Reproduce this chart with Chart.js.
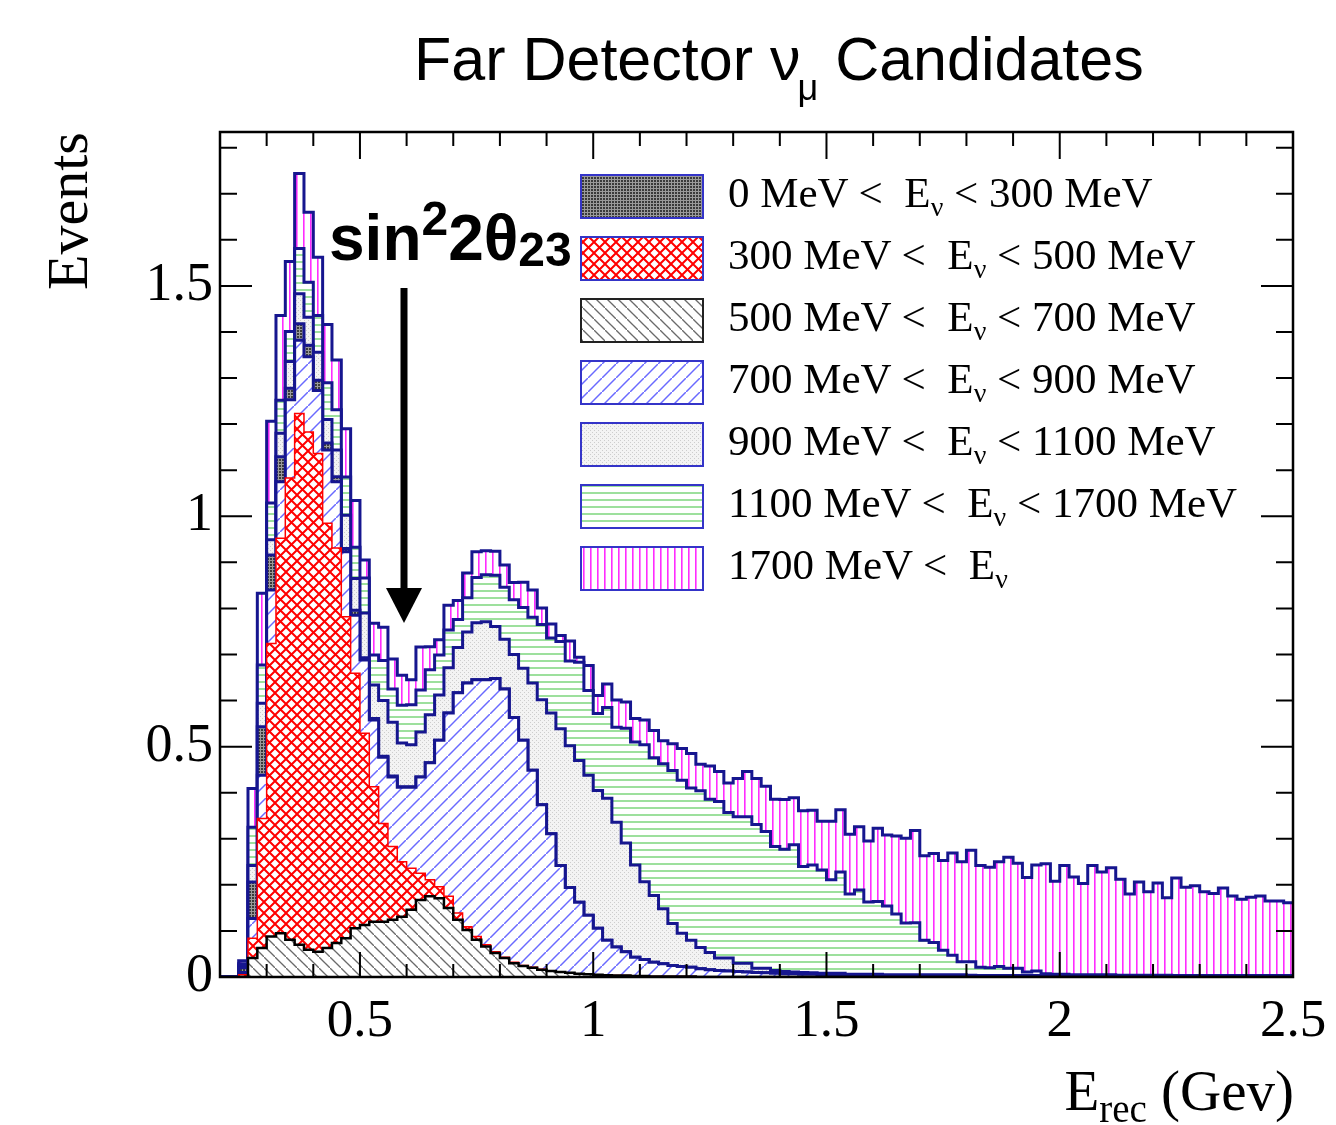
<!DOCTYPE html>
<html>
<head>
<meta charset="utf-8">
<script src="https://cdn.jsdelivr.net/npm/chart.js@4.4.1/dist/chart.umd.min.js"></script>
<style>
  body { margin: 0; background: #fff; }
  #wrap { position: relative; width: 1336px; height: 1125px; background: #fff; overflow: hidden; }
  #c { position: absolute; left: 0; top: 0; }
  .txt { position: absolute; white-space: nowrap; line-height: 1; color: #000; }
  .serif { font-family: 'Liberation Serif', 'DejaVu Serif', serif; }
  .sans { font-family: 'Liberation Sans', Arial, sans-serif; }
  .leg { left: 728px; font-size: 43px; }
  .leg .s { font-size: 28px; position: relative; top: 9px; }
</style>
</head>
<body>
<div id="wrap">
  <canvas id="c" width="1336" height="1125"></canvas>

  <div class="txt sans" style="left:414px; top:29px; font-size:61px;">Far Detector ν<span style="font-size:36px; position:relative; top:20px; margin-left:-3px;">μ</span> Candidates</div>

  <div class="txt serif" style="left:39px; top:290px; font-size:58px; transform:rotate(-90deg); transform-origin:0 0;">Events</div>

  <div class="txt serif" style="right:42px; top:1062px; font-size:57px;">E<span style="font-size:39px; position:relative; top:12px;">rec</span> (Gev)</div>

  <div class="txt sans" style="left:329px; top:206px; font-size:64px; font-weight:bold;">sin<span style="font-size:48px; position:relative; top:-25px;">2</span>2θ<span style="font-size:48px; position:relative; top:6px;">23</span></div>

  <div class="txt serif leg" style="top:171px;">0 MeV &lt;&nbsp; E<span class="s">ν</span> &lt; 300 MeV</div>
  <div class="txt serif leg" style="top:233px;">300 MeV &lt;&nbsp; E<span class="s">ν</span> &lt; 500 MeV</div>
  <div class="txt serif leg" style="top:295px;">500 MeV &lt;&nbsp; E<span class="s">ν</span> &lt; 700 MeV</div>
  <div class="txt serif leg" style="top:357px;">700 MeV &lt;&nbsp; E<span class="s">ν</span> &lt; 900 MeV</div>
  <div class="txt serif leg" style="top:419px;">900 MeV &lt;&nbsp; E<span class="s">ν</span> &lt; 1100 MeV</div>
  <div class="txt serif leg" style="top:481px;">1100 MeV &lt;&nbsp; E<span class="s">ν</span> &lt; 1700 MeV</div>
  <div class="txt serif leg" style="top:543px;">1700 MeV &lt;&nbsp; E<span class="s">ν</span></div>
</div>

<script>
// reconstructed energy bins: 0.20 .. 2.50 GeV, 0.02 GeV wide (115 bins)
const binEdges = Array.from({ length: 116 }, (_, i) => +(0.2 + 0.02 * i).toFixed(2));

// events per bin for each true-energy slice
const ev0to300 = [
  0, 0, 0.010, 0.079, 0.105, 0.076, 0.054, 0.025, 0.036, 0.025,
  0.022, 0.015, 0.011, 0.007, 0.011, 0.005, 0.003, 0.002, 0.002, 0.001,
  0.001, 0, 0, 0, 0, 0, 0, 0, 0, 0,
  0, 0, 0, 0, 0, 0, 0, 0, 0, 0,
  0, 0, 0, 0, 0, 0, 0, 0, 0, 0,
  0, 0, 0, 0, 0, 0, 0, 0, 0, 0,
  0, 0, 0, 0, 0, 0, 0, 0, 0, 0,
  0, 0, 0, 0, 0, 0, 0, 0, 0, 0,
  0, 0, 0, 0, 0, 0, 0, 0, 0, 0,
  0, 0, 0, 0, 0, 0, 0, 0, 0, 0,
  0, 0, 0, 0, 0, 0, 0, 0, 0, 0,
  0, 0, 0, 0, 0
];
const ev300to500 = [
  0, 0, 0.005, 0.043, 0.281, 0.636, 0.857, 1.002, 1.153, 1.124,
  1.081, 0.922, 0.857, 0.698, 0.553, 0.416, 0.293, 0.213, 0.159, 0.119,
  0.090, 0.058, 0.036, 0.025, 0.025, 0.015, 0.007, 0.007, 0.004, 0.003,
  0.002, 0.002, 0.001, 0.001, 0.001, 0, 0, 0, 0, 0,
  0, 0, 0, 0, 0, 0, 0, 0, 0, 0,
  0, 0, 0, 0, 0, 0, 0, 0, 0, 0,
  0, 0, 0, 0, 0, 0, 0, 0, 0, 0,
  0, 0, 0, 0, 0, 0, 0, 0, 0, 0,
  0, 0, 0, 0, 0, 0, 0, 0, 0, 0,
  0, 0, 0, 0, 0, 0, 0, 0, 0, 0,
  0, 0, 0, 0, 0, 0, 0, 0, 0, 0,
  0, 0, 0, 0, 0
];
const ev500to700 = [
  0, 0, 0, 0.041, 0.063, 0.088, 0.095, 0.081, 0.070, 0.059,
  0.055, 0.063, 0.074, 0.084, 0.106, 0.113, 0.120, 0.120, 0.124, 0.131,
  0.146, 0.167, 0.175, 0.171, 0.150, 0.124, 0.102, 0.081, 0.066, 0.052,
  0.041, 0.030, 0.024, 0.020, 0.016, 0.013, 0.011, 0.009, 0.007, 0.006,
  0.005, 0.004, 0.003, 0.003, 0.002, 0.002, 0.001, 0.001, 0.001, 0.001,
  0.001, 0, 0, 0, 0, 0, 0, 0, 0, 0,
  0, 0, 0, 0, 0, 0, 0, 0, 0, 0,
  0, 0, 0, 0, 0, 0, 0, 0, 0, 0,
  0, 0, 0, 0, 0, 0, 0, 0, 0, 0,
  0, 0, 0, 0, 0, 0, 0, 0, 0, 0,
  0, 0, 0, 0, 0, 0, 0, 0, 0, 0,
  0, 0, 0, 0, 0
];
const ev700to900 = [
  0, 0, 0.005, 0.043, 0.094, 0.116, 0.123, 0.170, 0.159, 0.163,
  0.137, 0.159, 0.144, 0.141, 0.126, 0.159, 0.145, 0.144, 0.151, 0.162,
  0.176, 0.209, 0.254, 0.318, 0.398, 0.478, 0.529, 0.557, 0.575, 0.593,
  0.582, 0.531, 0.489, 0.428, 0.357, 0.298, 0.231, 0.185, 0.155, 0.128,
  0.101, 0.076, 0.062, 0.052, 0.041, 0.036, 0.031, 0.028, 0.024, 0.022,
  0.020, 0.018, 0.016, 0.014, 0.013, 0.012, 0.011, 0.010, 0.009, 0.008,
  0.007, 0.007, 0.006, 0.006, 0.005, 0.005, 0.005, 0.004, 0.004, 0.004,
  0.004, 0.003, 0.003, 0.003, 0.003, 0.003, 0.003, 0.003, 0.003, 0.003,
  0.003, 0.002, 0.002, 0.002, 0.002, 0.002, 0.002, 0.002, 0.002, 0.002,
  0.002, 0.002, 0.002, 0.002, 0.002, 0.002, 0.002, 0.002, 0.002, 0.002,
  0.002, 0.002, 0.001, 0.001, 0.001, 0.001, 0.001, 0.001, 0.001, 0.001,
  0.001, 0.001, 0.001, 0.001, 0.001
];
const ev900to1100 = [
  0, 0, 0.005, 0.036, 0.051, 0.033, 0.051, 0.058, 0.065, 0.061,
  0.061, 0.051, 0.058, 0.072, 0.069, 0.097, 0.073, 0.121, 0.117, 0.095,
  0.091, 0.098, 0.104, 0.098, 0.098, 0.098, 0.111, 0.124, 0.126, 0.113,
  0.108, 0.137, 0.156, 0.189, 0.228, 0.262, 0.297, 0.308, 0.308, 0.304,
  0.299, 0.308, 0.271, 0.236, 0.200, 0.169, 0.145, 0.119, 0.091, 0.072,
  0.059, 0.046, 0.037, 0.027, 0.028, 0.018, 0.019, 0.009, 0.010, 0.006,
  0.005, 0.004, 0.004, 0.003, 0.003, 0.003, 0.003, 0.002, 0.002, 0.002,
  0.002, 0.002, 0.002, 0.002, 0.002, 0.002, 0.002, 0.002, 0.002, 0.002,
  0.001, 0.001, 0.001, 0.001, 0.001, 0.001, 0.001, 0.001, 0.001, 0.001,
  0.001, 0.001, 0.001, 0.001, 0.001, 0.001, 0.001, 0.001, 0.001, 0.001,
  0.001, 0.001, 0.001, 0.001, 0.001, 0.001, 0.001, 0.001, 0.001, 0.001,
  0.001, 0.001, 0.001, 0.001, 0.001
];
const ev1100to1700 = [
  0, 0, 0.004, 0.083, 0.083, 0.080, 0.072, 0.065, 0.098, 0.076,
  0.080, 0.080, 0.087, 0.083, 0.068, 0.076, 0.065, 0.087, 0.072, 0.082,
  0.087, 0.091, 0.098, 0.087, 0.082, 0.061, 0.074, 0.098, 0.102, 0.111,
  0.113, 0.119, 0.132, 0.143, 0.163, 0.163, 0.189, 0.184, 0.213, 0.184,
  0.167, 0.197, 0.206, 0.249, 0.267, 0.297, 0.299, 0.315, 0.332, 0.332,
  0.330, 0.340, 0.333, 0.340, 0.316, 0.318, 0.318, 0.312, 0.297, 0.269,
  0.265, 0.276, 0.230, 0.234, 0.224, 0.203, 0.220, 0.174, 0.183, 0.157,
  0.158, 0.149, 0.132, 0.112, 0.113, 0.075, 0.070, 0.053, 0.042, 0.028,
  0.029, 0.018, 0.017, 0.020, 0.016, 0.016, 0.008, 0.010, 0.004, 0.003,
  0.003, 0.002, 0.002, 0.002, 0.002, 0.002, 0.001, 0.001, 0.001, 0.001,
  0.001, 0.001, 0.001, 0.001, 0.001, 0.001, 0.001, 0.001, 0.001, 0.001,
  0.001, 0.001, 0.001, 0.001, 0.001
];
const ev1700up = [
  0, 0, 0.006, 0.084, 0.156, 0.177, 0.184, 0.152, 0.163, 0.152,
  0.126, 0.126, 0.108, 0.105, 0.101, 0.039, 0.069, 0.072, 0.065, 0.065,
  0.054, 0.093, 0.050, 0.033, 0.054, 0.041, 0.054, 0.056, 0.052, 0.052,
  0.048, 0.037, 0.055, 0.059, 0.036, 0.030, 0.013, 0.043, 0.011, 0.054,
  0.039, 0.051, 0.059, 0.057, 0.051, 0.054, 0.059, 0.050, 0.058, 0.069,
  0.075, 0.058, 0.072, 0.065, 0.064, 0.083, 0.098, 0.100, 0.098, 0.103,
  0.108, 0.102, 0.121, 0.119, 0.106, 0.127, 0.135, 0.130, 0.137, 0.132,
  0.159, 0.154, 0.169, 0.184, 0.200, 0.183, 0.193, 0.195, 0.222, 0.217,
  0.242, 0.221, 0.218, 0.227, 0.241, 0.228, 0.205, 0.230, 0.239, 0.202,
  0.236, 0.212, 0.198, 0.237, 0.223, 0.232, 0.208, 0.176, 0.202, 0.181,
  0.200, 0.168, 0.212, 0.192, 0.195, 0.182, 0.178, 0.190, 0.173, 0.166,
  0.170, 0.173, 0.162, 0.162, 0.158
];

// axis labels
const xMajor = [0.5, 1, 1.5, 2, 2.5];
const xTickLabels = ['0.5', '1', '1.5', '2', '2.5'];
const yMajor = [0, 0.5, 1, 1.5];
const yTickLabels = ['0', '0.5', '1', '1.5'];

// small repeating tiles for the ROOT-like fill styles
function tile(size, bg, paint) {
  const c = document.createElement('canvas');
  c.width = size;
  c.height = size;
  const g = c.getContext('2d');
  if (bg) {
    g.fillStyle = bg;
    g.fillRect(0, 0, size, size);
  }
  paint(g, size);
  return g.createPattern(c, 'repeat');
}

const patDark = tile(6, '#9a9a9a', g => {
  g.fillStyle = '#3a3a3a';
  g.fillRect(0, 0, 2, 2);
  g.fillRect(3, 3, 2, 2);
  g.fillRect(3, 0, 2, 2);
  g.fillRect(0, 3, 2, 2);
});
const patRed = tile(11, '#ffffff', (g, s) => {
  g.strokeStyle = '#ff0000';
  g.lineWidth = 2;
  g.beginPath();
  g.moveTo(0, 0); g.lineTo(s, s);
  g.moveTo(s, 0); g.lineTo(0, s);
  g.stroke();
});
const patGrey = tile(11, '#ffffff', (g, s) => {
  g.strokeStyle = '#6a6a6a';
  g.lineWidth = 1.3;
  g.beginPath();
  g.moveTo(0, 0); g.lineTo(s, s);
  g.stroke();
});
const patBlue = tile(14, '#ffffff', (g, s) => {
  g.strokeStyle = '#6a6aff';
  g.lineWidth = 1.5;
  g.beginPath();
  g.moveTo(0, s); g.lineTo(s, 0);
  g.stroke();
});
const patLight = tile(4, '#f3f3f3', g => {
  g.fillStyle = '#cdcdcd';
  g.fillRect(0, 0, 1, 1);
  g.fillRect(2, 2, 1, 1);
});
const patGreen = tile(7, '#ffffff', (g, s) => {
  g.fillStyle = '#9de09d';
  g.fillRect(0, 2, s, 2);
});
const patMagenta = tile(7, '#ffffff', (g, s) => {
  g.fillStyle = '#ff2cff';
  g.fillRect(2, 0, 1.6, s);
});

const navy = '#16168f';

// one point per bin edge; 'before' keeps each bin's value until the next edge
function steps(values) {
  return binEdges.map((x, i) => ({ x: x, y: values[Math.min(i, values.length - 1)] }));
}

function layer(label, values, pattern, border, width, fill) {
  return {
    label: label,
    data: steps(values),
    backgroundColor: pattern,
    borderColor: border,
    borderWidth: width,
    fill: fill,
    stepped: 'before',
    pointRadius: 0,
    pointHoverRadius: 0
  };
}

// stacking order as in the picture, bottom first
const datasets = [
  layer('500 MeV < Eν < 700 MeV', ev500to700, patGrey, '#000000', 2.5, 'origin'),
  layer('300 MeV < Eν < 500 MeV', ev300to500, patRed, '#ff0000', 1.5, '-1'),
  layer('700 MeV < Eν < 900 MeV', ev700to900, patBlue, navy, 3, '-1'),
  layer('0 MeV < Eν < 300 MeV', ev0to300, patDark, navy, 3, '-1'),
  layer('900 MeV < Eν < 1100 MeV', ev900to1100, patLight, navy, 3, '-1'),
  layer('1100 MeV < Eν < 1700 MeV', ev1100to1700, patGreen, navy, 3, '-1'),
  layer('1700 MeV < Eν', ev1700up, patMagenta, navy, 3, '-1')
];

// legend rows, top to bottom (indices into datasets)
const legendOrder = [3, 1, 0, 2, 4, 5, 6];
const legendBorder = ['#3434c8', '#3434c8', '#222222', '#3434c8', '#3434c8', '#3434c8', '#3434c8'];

const rootDecor = {
  id: 'rootDecor',
  afterDatasetsDraw(chart) {
    const ctx = chart.ctx;
    const { left, right, top, bottom } = chart.chartArea;
    const xs = chart.scales.x;
    const ys = chart.scales.y;
    ctx.save();

    // legend boxes
    legendOrder.forEach((di, row) => {
      const ds = chart.data.datasets[di];
      const bx = 581, by = 175 + row * 62, bw = 122, bh = 43;
      ctx.fillStyle = ds.backgroundColor;
      ctx.fillRect(bx, by, bw, bh);
      ctx.strokeStyle = legendBorder[row];
      ctx.lineWidth = 2;
      ctx.strokeRect(bx, by, bw, bh);
    });

    // arrow pointing at the dip
    ctx.fillStyle = '#000';
    ctx.fillRect(400.5, 288, 7, 302);
    ctx.beginPath();
    ctx.moveTo(386, 588);
    ctx.lineTo(422, 588);
    ctx.lineTo(404, 623);
    ctx.closePath();
    ctx.fill();

    // ticks on all four sides, inside the frame
    ctx.strokeStyle = '#000';
    ctx.lineWidth = 2;
    ctx.beginPath();
    for (let k = 2; k <= 25; k++) {
      const px = xs.getPixelForValue(k / 10);
      const major = k % 5 === 0;
      ctx.moveTo(px, bottom);
      ctx.lineTo(px, bottom - (major ? 25 : 13));
      ctx.moveTo(px, top);
      ctx.lineTo(px, top + (major ? 27 : 14));
    }
    for (let k = 0; k <= 18; k++) {
      const py = ys.getPixelForValue(k / 10);
      const major = k % 5 === 0;
      ctx.moveTo(left, py);
      ctx.lineTo(left + (major ? 32 : 17), py);
      ctx.moveTo(right, py);
      ctx.lineTo(right - (major ? 32 : 17), py);
    }
    ctx.stroke();

    ctx.lineWidth = 2.5;
    ctx.strokeRect(left, top, right - left, bottom - top);
    ctx.restore();
  }
};

function pick(list, labels, v) {
  const i = list.findIndex(m => Math.abs(m - v) < 1e-6);
  return i >= 0 ? labels[i] : '';
}

new Chart(document.getElementById('c'), {
  type: 'line',
  data: { datasets: datasets },
  options: {
    responsive: false,
    devicePixelRatio: 1,
    animation: false,
    events: [],
    layout: { padding: { left: 0, top: 132, right: 43, bottom: 0 } },
    plugins: {
      legend: { display: false },
      title: { display: false },
      tooltip: { enabled: false }
    },
    scales: {
      x: {
        type: 'linear',
        min: 0.2,
        max: 2.5,
        grid: { display: false, drawTicks: false },
        border: { display: false },
        afterFit: s => { s.height = 148; s.paddingLeft = 0; s.paddingRight = 0; },
        ticks: {
          stepSize: 0.5,
          autoSkip: false,
          maxRotation: 0,
          padding: 13,
          color: '#000',
          font: { family: "'Liberation Serif', serif", size: 53 },
          callback: v => pick(xMajor, xTickLabels, v)
        }
      },
      y: {
        type: 'linear',
        stacked: true,
        min: 0,
        max: 1.834,
        grid: { display: false, drawTicks: false },
        border: { display: false },
        afterFit: s => { s.width = 220; s.paddingTop = 0; s.paddingBottom = 0; },
        ticks: {
          stepSize: 0.5,
          autoSkip: false,
          padding: 7,
          color: '#000',
          font: { family: "'Liberation Serif', serif", size: 54 },
          callback: v => pick(yMajor, yTickLabels, v)
        }
      }
    }
  },
  plugins: [rootDecor]
});
</script>
</body>
</html>
